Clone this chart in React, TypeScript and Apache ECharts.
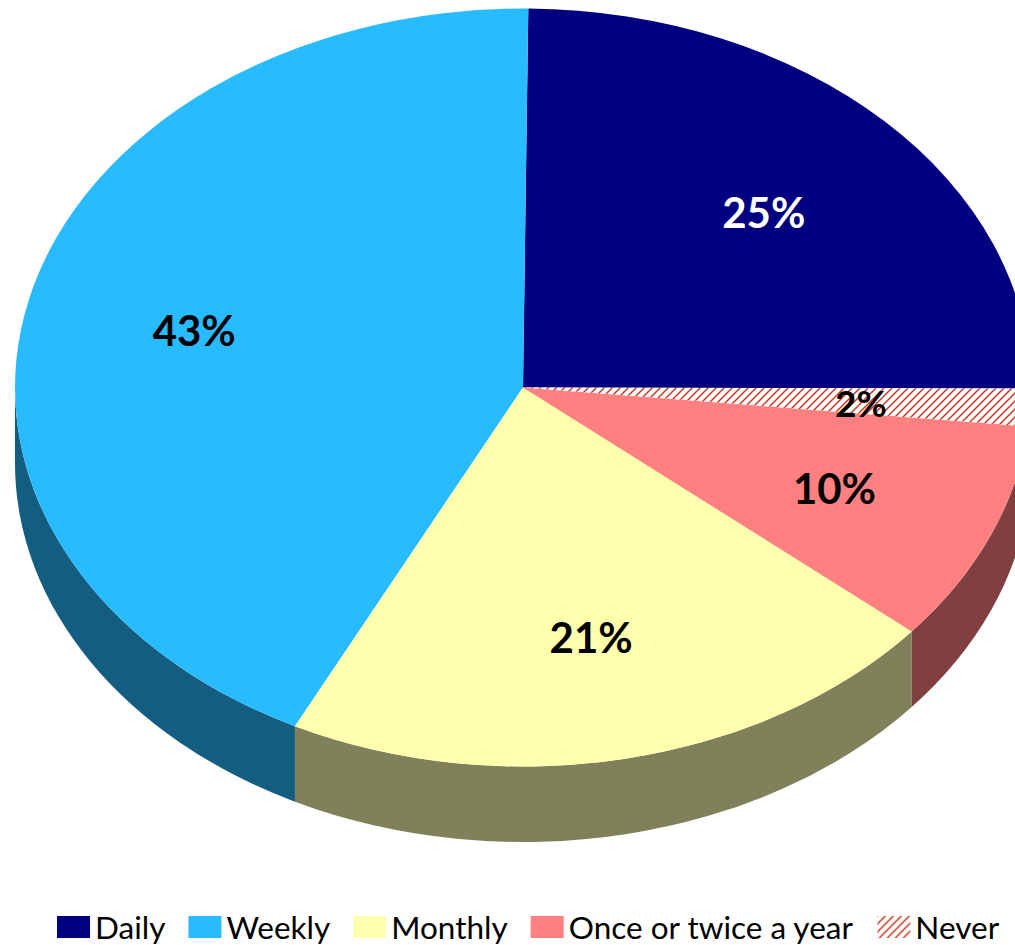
import React, { useEffect, useRef } from "react";
import * as echarts from "echarts";

const categories = ["Daily", "Weekly", "Monthly", "Once or twice a year", "Never"];
const values = [24.9, 42.8, 21.3, 9.5, 1.6];
const shownLabels = ["25%", "43%", "21%", "10%", "2%"];
// Slice order clockwise from the top of the pie
const sliceOrder = [0, 4, 3, 2, 1];
const topColors = ["#000080", "#29BBFF", "#FFFFAD", "#FF8080", "#FFFFFF"];
const sideColors = ["#000040", "#135E80", "#80805A", "#804040", "#804040"];
const labelColors = ["#FFFFFF", "#000000", "#000000", "#000000", "#000000"];

const CX = 523;
const CY = 387.5;
const RX = 508;
const RY = 379;
const DEPTH = 75.5;
const START_DEG = 0.6;
const LABEL_R = 0.666;
const LABEL_DY = 2;

function px(deg: number) {
  return CX + RX * Math.sin((deg * Math.PI) / 180);
}
function py(deg: number) {
  return CY - RY * Math.cos((deg * Math.PI) / 180);
}

function makeHatch() {
  const c = document.createElement("canvas");
  c.width = 8;
  c.height = 8;
  const g = c.getContext("2d")!;
  g.fillStyle = "#FFFFFF";
  g.fillRect(0, 0, 8, 8);
  g.strokeStyle = "#C83A20";
  g.lineWidth = 1.5;
  for (const o of [-8, 0, 8]) {
    g.beginPath();
    g.moveTo(o - 1, 9);
    g.lineTo(o + 9, -1);
    g.stroke();
  }
  return c;
}

export default function App() {
  const ref = useRef<HTMLDivElement>(null);
  useEffect(() => {
    const chart = echarts.init(ref.current!, undefined, { renderer: "svg" });
    const total = values.reduce((a, b) => a + b, 0);
    const hatch = { image: makeHatch(), repeat: "repeat" } as any;
    const starts: number[] = [];
    let acc = START_DEG;
    sliceOrder.forEach((i) => {
      starts[i] = acc;
      acc += (values[i] / total) * 360;
    });
    const fillOf = (i: number) => (categories[i] === "Never" ? hatch : topColors[i]);

    const series = categories.map((name, i) => ({
      type: "custom",
      name,
      coordinateSystem: "none",
      silent: true,
      data: [values[i]],
      renderItem: (_p: any, api: any) => {
        const sweep = (api.value(0) / total) * 360;
        const a0 = starts[i];
        const a1 = a0 + sweep;
        const large = sweep > 180 ? 1 : 0;
        const top = `M${CX} ${CY}L${px(a0)} ${py(a0)}A${RX} ${RY} 0 ${large} 1 ${px(a1)} ${py(a1)}Z`;
        const children: any[] = [];
        const s = Math.max(a0, 90);
        const e = Math.min(a1, 270);
        if (e > s) {
          const side = `M${px(s)} ${py(s)}A${RX} ${RY} 0 0 1 ${px(e)} ${py(e)}L${px(e)} ${py(e) + DEPTH}A${RX} ${RY} 0 0 0 ${px(s)} ${py(s) + DEPTH}Z`;
          children.push({ type: "path", shape: { pathData: side }, style: { fill: sideColors[i] } });
        }
        children.push({ type: "path", shape: { pathData: top }, style: { fill: fillOf(i) } });
        const mid = (a0 + a1) / 2;
        const rad = (mid * Math.PI) / 180;
        children.push({
          type: "text",
          z2: 10,
          style: {
            x: CX + RX * LABEL_R * Math.sin(rad),
            y: CY - RY * LABEL_R * Math.cos(rad) + LABEL_DY,
            text: shownLabels[i],
            fill: labelColors[i],
            fontFamily: "Lato",
            fontWeight: "bold",
            fontSize: categories[i] === "Never" ? 37 : 42,
            align: "center",
            verticalAlign: "middle",
          },
        });
        return { type: "group", children };
      },
    }));

    chart.setOption({
      animation: false,
      backgroundColor: "#FFFFFF",
      legend: {
        left: 57,
        top: 911,
        padding: 0,
        itemGap: 23,
        itemWidth: 33,
        itemHeight: 22,
        icon: "rect",
        selectedMode: false,
        textStyle: { fontFamily: "Lato", fontSize: 31.5, color: "#000000" },
        data: categories.map((name, i) => ({
          name,
          icon: "rect",
          itemStyle: { color: fillOf(i), borderWidth: 0 },
        })),
      },
      series,
    } as any);
    return () => chart.dispose();
  }, []);
  return <div ref={ref} style={{ position: "fixed", left: 0, top: 0, width: 1015, height: 945 }} />;
}
